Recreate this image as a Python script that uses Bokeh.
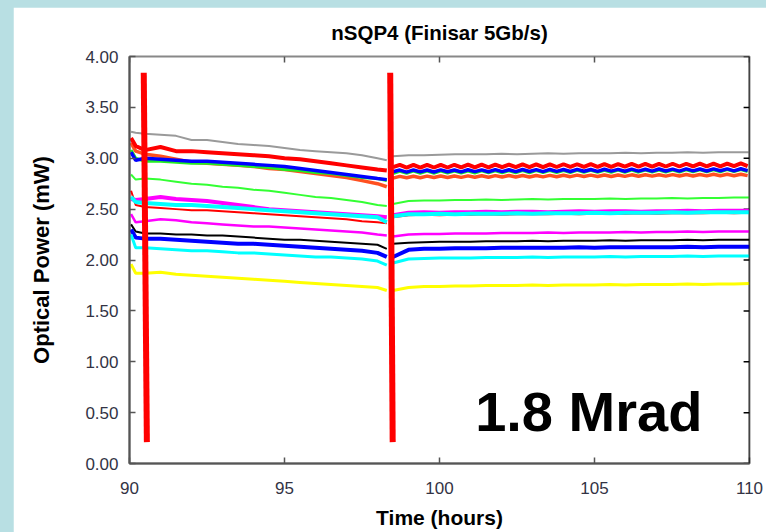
from bokeh.plotting import figure
from bokeh.models import (FixedTicker, NumeralTickFormatter, Label, Span,
                          Spacer, GlobalInlineStyleSheet, Range1d)
from bokeh.layouts import row, column
from bokeh.embed import file_html
from bokeh.resources import INLINE

# ---------------- data ----------------
title_text = "nSQP4 (Finisar 5Gb/s)"
x_ticks = [90, 95, 100, 105, 110]
y_ticks = [0.0, 0.5, 1.0, 1.5, 2.0, 2.5, 3.0, 3.5, 4.0]

# segment A: before second irradiation mark
t_a = [90.05, 90.2, 90.5, 91.0, 91.5, 92.0, 92.5, 93.0, 93.5, 94.0,
       94.5, 95.0, 95.5, 96.0, 96.5, 97.0, 97.5, 98.0, 98.3]

gray_a = [3.26, 3.25, 3.24, 3.23, 3.22, 3.18, 3.18, 3.16, 3.14, 3.13,
          3.12, 3.10, 3.08, 3.07, 3.06, 3.05, 3.03, 3.00, 2.98]
red_top_a = [3.20, 3.12, 3.08, 3.11, 3.07, 3.07, 3.06, 3.05, 3.04, 3.03,
             3.02, 3.00, 2.99, 2.97, 2.95, 2.93, 2.91, 2.89, 2.88]
blue_up_a = [3.06, 2.98, 3.00, 2.99, 2.98, 2.97, 2.97, 2.96, 2.95, 2.94,
             2.93, 2.92, 2.90, 2.88, 2.86, 2.84, 2.82, 2.80, 2.79]
green_up_a = [3.08, 3.00, 2.97, 2.97, 2.96, 2.95, 2.95, 2.94, 2.93, 2.92,
              2.91, 2.89, 2.88, 2.86, 2.85, 2.83, 2.81, 2.80, 2.78]
orange_a = [3.15, 3.07, 3.04, 3.02, 2.99, 2.96, 2.95, 2.94, 2.93, 2.92,
            2.90, 2.89, 2.87, 2.85, 2.83, 2.81, 2.78, 2.75, 2.72]
lgreen_a = [2.84, 2.79, 2.80, 2.79, 2.77, 2.75, 2.74, 2.72, 2.71, 2.69,
            2.68, 2.66, 2.64, 2.62, 2.61, 2.59, 2.57, 2.54, 2.53]
mag_thick_a = [2.60, 2.59, 2.60, 2.62, 2.60, 2.59, 2.58, 2.56, 2.54, 2.52,
               2.50, 2.49, 2.48, 2.47, 2.46, 2.45, 2.44, 2.43, 2.42]
cyan_thick_a = [2.62, 2.57, 2.56, 2.55, 2.54, 2.54, 2.53, 2.52, 2.51, 2.50,
                2.49, 2.48, 2.47, 2.46, 2.45, 2.44, 2.43, 2.42, 2.37]
red_thin_a = [2.68, 2.54, 2.52, 2.51, 2.50, 2.49, 2.49, 2.48, 2.47, 2.46,
              2.45, 2.44, 2.43, 2.42, 2.41, 2.40, 2.38, 2.37, 2.36]
mag_thin_a = [2.45, 2.37, 2.38, 2.40, 2.39, 2.37, 2.36, 2.35, 2.34, 2.33,
              2.33, 2.32, 2.31, 2.30, 2.29, 2.28, 2.27, 2.25, 2.24]
black_a = [2.35, 2.28, 2.26, 2.26, 2.25, 2.25, 2.24, 2.24, 2.23, 2.22,
           2.21, 2.20, 2.20, 2.19, 2.18, 2.17, 2.16, 2.15, 2.11]
blue_low_a = [2.30, 2.22, 2.21, 2.21, 2.20, 2.19, 2.18, 2.17, 2.16, 2.16,
              2.15, 2.14, 2.13, 2.12, 2.11, 2.10, 2.09, 2.07, 2.03]
cyan_low_a = [2.25, 2.12, 2.12, 2.11, 2.10, 2.09, 2.09, 2.08, 2.07, 2.07,
              2.06, 2.05, 2.04, 2.03, 2.03, 2.02, 2.01, 1.99, 1.95]
yellow_a = [1.96, 1.87, 1.87, 1.88, 1.86, 1.85, 1.84, 1.83, 1.82, 1.81,
            1.80, 1.79, 1.78, 1.77, 1.76, 1.75, 1.74, 1.73, 1.70]

# segment B (after second mark), smooth channels
t_b = [98.5, 99.0, 99.5, 100.0, 100.5, 101.0, 101.5, 102.0, 102.5, 103.0, 103.5, 104.0,
       104.5, 105.0, 105.5, 106.0, 106.5, 107.0, 107.5, 108.0, 108.5, 109.0, 109.5, 110.0]

gray_b = [3.02, 3.03, 3.03, 3.035, 3.04, 3.04, 3.04, 3.045, 3.04, 3.045, 3.05, 3.045,
          3.05, 3.05, 3.05, 3.055, 3.05, 3.055, 3.055, 3.06, 3.055, 3.06, 3.06, 3.06]
lgreen_b = [2.55, 2.58, 2.585, 2.585, 2.59, 2.59, 2.595, 2.59, 2.595, 2.60, 2.595, 2.60,
            2.60, 2.60, 2.605, 2.60, 2.605, 2.605, 2.61, 2.605, 2.61, 2.61, 2.615, 2.615]
mag_thick_b = [2.44, 2.465, 2.47, 2.465, 2.47, 2.47, 2.475, 2.47, 2.475, 2.475, 2.47, 2.475,
               2.48, 2.475, 2.48, 2.48, 2.475, 2.48, 2.48, 2.485, 2.48, 2.485, 2.485, 2.485]
cyan_thick_b = [2.43, 2.45, 2.45, 2.455, 2.45, 2.455, 2.455, 2.455, 2.46, 2.455, 2.46, 2.46,
                2.46, 2.465, 2.46, 2.465, 2.465, 2.465, 2.47, 2.465, 2.47, 2.47, 2.47, 2.47]
red_thin_b = [2.42, 2.44, 2.445, 2.44, 2.445, 2.445, 2.45, 2.445, 2.45, 2.45, 2.45, 2.455,
              2.45, 2.455, 2.455, 2.455, 2.46, 2.455, 2.46, 2.46, 2.46, 2.465, 2.46, 2.465]
mag_thin_b = [2.23, 2.25, 2.255, 2.255, 2.26, 2.26, 2.26, 2.265, 2.265, 2.265, 2.27, 2.265,
              2.27, 2.27, 2.27, 2.275, 2.27, 2.275, 2.275, 2.28, 2.275, 2.28, 2.28, 2.28]
black_b = [2.16, 2.17, 2.175, 2.18, 2.18, 2.18, 2.185, 2.185, 2.185, 2.19, 2.185, 2.19,
           2.19, 2.19, 2.195, 2.19, 2.195, 2.195, 2.195, 2.20, 2.195, 2.20, 2.20, 2.20]
blue_low_b = [2.03, 2.10, 2.11, 2.11, 2.115, 2.115, 2.115, 2.12, 2.12, 2.12, 2.12, 2.12,
              2.125, 2.12, 2.125, 2.125, 2.125, 2.125, 2.125, 2.13, 2.125, 2.13, 2.13, 2.13]
cyan_low_b = [1.97, 2.01, 2.015, 2.02, 2.02, 2.02, 2.025, 2.025, 2.025, 2.03, 2.025, 2.03,
              2.03, 2.03, 2.035, 2.03, 2.035, 2.035, 2.035, 2.04, 2.035, 2.04, 2.04, 2.04]
yellow_b = [1.70, 1.73, 1.74, 1.74, 1.745, 1.745, 1.75, 1.75, 1.75, 1.755, 1.75, 1.755,
            1.755, 1.755, 1.76, 1.755, 1.76, 1.76, 1.76, 1.765, 1.76, 1.765, 1.765, 1.77]

# segment B, oscillating channels (finer sampling)
t_bf = [98.50, 98.72, 98.94, 99.16, 99.38, 99.60, 99.82, 100.04, 100.26, 100.48,
        100.70, 100.92, 101.14, 101.36, 101.58, 101.80, 102.02, 102.24, 102.46, 102.68,
        102.90, 103.12, 103.34, 103.56, 103.78, 104.00, 104.22, 104.44, 104.66, 104.88,
        105.10, 105.32, 105.54, 105.76, 105.98, 106.20, 106.42, 106.64, 106.86, 107.08,
        107.30, 107.52, 107.74, 107.96, 108.18, 108.40, 108.62, 108.84, 109.06, 109.28,
        109.50, 109.72, 109.94]
red_top_b = [2.912, 2.934, 2.908, 2.934, 2.908, 2.935, 2.909, 2.935, 2.909, 2.936,
             2.910, 2.937, 2.910, 2.937, 2.911, 2.938, 2.912, 2.938, 2.912, 2.939,
             2.913, 2.940, 2.913, 2.940, 2.914, 2.941, 2.915, 2.941, 2.915, 2.942,
             2.916, 2.943, 2.916, 2.943, 2.917, 2.944, 2.918, 2.944, 2.918, 2.945,
             2.919, 2.946, 2.919, 2.946, 2.920, 2.947, 2.921, 2.947, 2.921, 2.948,
             2.922, 2.949, 2.923]
blue_up_b = [2.868, 2.884, 2.864, 2.885, 2.866, 2.884, 2.865, 2.886, 2.867, 2.885,
             2.866, 2.887, 2.868, 2.886, 2.867, 2.888, 2.869, 2.887, 2.868, 2.889,
             2.870, 2.888, 2.869, 2.890, 2.871, 2.889, 2.870, 2.891, 2.872, 2.890,
             2.871, 2.892, 2.873, 2.891, 2.872, 2.893, 2.874, 2.892, 2.873, 2.894,
             2.875, 2.893, 2.874, 2.895, 2.876, 2.894, 2.875, 2.896, 2.877, 2.895,
             2.876, 2.897, 2.878]
green_up_b = [2.850, 2.872, 2.852, 2.873, 2.853, 2.873, 2.853, 2.874, 2.854, 2.875,
              2.855, 2.875, 2.855, 2.876, 2.856, 2.877, 2.857, 2.877, 2.857, 2.878,
              2.858, 2.879, 2.859, 2.879, 2.859, 2.880, 2.860, 2.881, 2.861, 2.881,
              2.861, 2.882, 2.862, 2.883, 2.863, 2.883, 2.863, 2.884, 2.864, 2.885,
              2.865, 2.885, 2.865, 2.886, 2.866, 2.887, 2.867, 2.887, 2.867, 2.888,
              2.868, 2.889, 2.869]
orange_b = [2.805, 2.822, 2.808, 2.823, 2.809, 2.824, 2.810, 2.825, 2.811, 2.826,
            2.812, 2.827, 2.813, 2.828, 2.814, 2.829, 2.815, 2.830, 2.816, 2.830,
            2.816, 2.831, 2.817, 2.832, 2.818, 2.833, 2.819, 2.834, 2.820, 2.834,
            2.820, 2.835, 2.821, 2.836, 2.822, 2.837, 2.823, 2.838, 2.824, 2.838,
            2.824, 2.839, 2.825, 2.840, 2.826, 2.841, 2.827, 2.842, 2.828, 2.842,
            2.828, 2.843, 2.829]

# irradiation marker bars (time at top, time at bottom)
mark_t_top = [90.46, 98.41]
mark_t_bot = [90.56, 98.49]
mark_v_top = [3.84, 3.84]
mark_v_bot = [0.21, 0.21]

# ---------------- styling ----------------
FONT = "Liberation Sans"
BG = "#b8dfe3"
X_MIN, X_MAX, Y_MIN, Y_MAX = 90, 110, 0, 4
TICK_LEN_Y = 0.059   # inward tick length on the top edge, in data units (about 6 px)
TICK_LEN_X = 0.19    # inward tick length on the right edge, in data units (about 6 px)

series = [
    # (segment A values, segment B times, segment B values, colour, width)
    (gray_a, t_b, gray_b, "#9a9a9a", 2),
    (orange_a, t_bf, orange_b, "#ff5020", 3.5),
    (green_up_a, t_bf, green_up_b, "#22ee22", 3),
    (blue_up_a, t_bf, blue_up_b, "#0000ff", 3.5),
    (red_top_a, t_bf, red_top_b, "#ff0000", 4),
    (lgreen_a, t_b, lgreen_b, "#33ff33", 2),
    (red_thin_a, t_b, red_thin_b, "#ff0000", 2),
    (mag_thick_a, t_b, mag_thick_b, "#ff00ff", 4),
    (cyan_thick_a, t_b, cyan_thick_b, "#00ffff", 4),
    (mag_thin_a, t_b, mag_thin_b, "#ff00ff", 2.5),
    (black_a, t_b, black_b, "#000000", 2),
    (blue_low_a, t_b, blue_low_b, "#0000ff", 4),
    (cyan_low_a, t_b, cyan_low_b, "#00ffff", 3),
    (yellow_a, t_b, yellow_b, "#ffff00", 3),
]

p = figure(width=753, height=525, x_range=Range1d(X_MIN, X_MAX), y_range=Range1d(Y_MIN, Y_MAX),
           output_backend="svg", toolbar_location=None, title=title_text,
           min_border_left=116, min_border_right=17, min_border_top=49, min_border_bottom=69,
           x_axis_label="Time (hours)", y_axis_label="Optical Power (mW)")
p.outline_line_color = "#888888"
p.outline_line_width = 2
p.grid.visible = False
p.background_fill_color = "white"
p.border_fill_color = "white"

p.title.align = "center"
p.title.vertical_align = "middle"
p.title.standoff = 23
p.title.text_font = FONT
p.title.text_font_size = "20.5px"
p.title.text_font_style = "bold"
p.title.text_color = "#000000"

for ax in (p.xaxis[0], p.yaxis[0]):
    ax.major_tick_in = 6
    ax.major_tick_out = 0
    ax.minor_tick_line_color = None
    ax.axis_line_color = "#555555"
    ax.axis_line_width = 2
    ax.major_tick_line_color = "#555555"
    ax.major_tick_line_width = 1.5
    ax.major_label_text_font = FONT
    ax.major_label_text_font_size = "17px"
    ax.major_label_text_color = "#333344"
    ax.axis_label_text_font = FONT
    ax.axis_label_text_font_style = "bold"
    ax.axis_label_text_color = "#000000"

p.xaxis[0].ticker = FixedTicker(ticks=x_ticks)
p.xaxis[0].major_label_standoff = 18
p.xaxis[0].axis_label_text_font_size = "21px"
p.xaxis[0].axis_label_standoff = 9

p.yaxis[0].ticker = FixedTicker(ticks=y_ticks)
p.yaxis[0].formatter = NumeralTickFormatter(format="0.00")
p.yaxis[0].major_label_standoff = 11
p.yaxis[0].axis_label_text_font_size = "22px"
p.yaxis[0].axis_label_standoff = 28

# right edge of the box is black
p.add_layout(Span(location=X_MAX, dimension="height", line_color="#000000", line_width=1.5))

# inward ticks on the top and right edges
p.segment(x0=x_ticks, y0=[Y_MAX] * len(x_ticks), x1=x_ticks,
          y1=[Y_MAX - TICK_LEN_Y] * len(x_ticks), line_color="#555555", line_width=1.5)
p.segment(x0=[X_MAX] * len(y_ticks), y0=y_ticks, x1=[X_MAX - TICK_LEN_X] * len(y_ticks),
          y1=y_ticks, line_color="#000000", line_width=1.5)

for ya, tb, yb, col, w in series:
    p.line(t_a, ya, line_color=col, line_width=w)
    p.line(tb, yb, line_color=col, line_width=w)

p.segment(x0=mark_t_top, y0=mark_v_top, x1=mark_t_bot, y1=mark_v_bot,
          line_color="#ff0000", line_width=6)

p.add_layout(Label(x=101.15, y=0.51, text="1.8 Mrad", text_font=FONT,
                   text_font_size="56px", text_font_style="bold",
                   text_color="#000000", text_baseline="alphabetic"))

css = GlobalInlineStyleSheet(css="html, body { background: %s; }" % BG)
left_strip = Spacer(width=13, height=532, stylesheets=[css])
top_strip = Spacer(width=753, height=7)
layout = row(left_strip, column(top_strip, p))

open("out.html", "w").write(file_html(layout, INLINE))
